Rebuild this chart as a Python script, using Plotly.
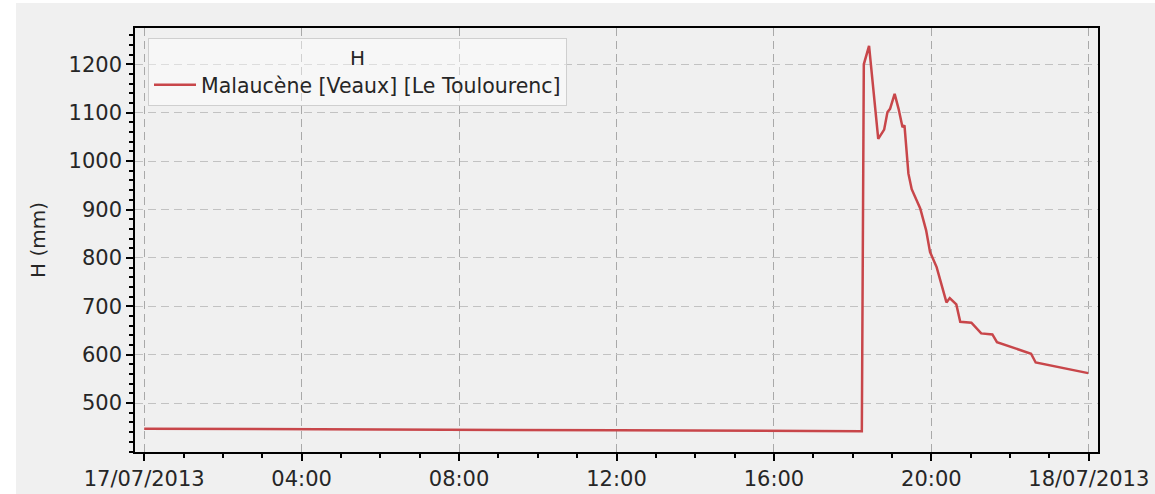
import plotly.graph_objects as go

# ---- data ----
times = [
    "2013-07-17 00:00", "2013-07-17 06:00", "2013-07-17 12:00", "2013-07-17 18:14",
    "2013-07-17 18:17", "2013-07-17 18:25", "2013-07-17 18:39", "2013-07-17 18:48",
    "2013-07-17 18:53", "2013-07-17 18:57", "2013-07-17 19:04", "2013-07-17 19:10",
    "2013-07-17 19:16", "2013-07-17 19:19", "2013-07-17 19:22", "2013-07-17 19:25",
    "2013-07-17 19:30", "2013-07-17 19:43", "2013-07-17 19:52", "2013-07-17 19:58",
    "2013-07-17 20:08", "2013-07-17 20:23", "2013-07-17 20:28", "2013-07-17 20:38",
    "2013-07-17 20:44", "2013-07-17 21:01", "2013-07-17 21:16", "2013-07-17 21:33",
    "2013-07-17 21:40", "2013-07-17 22:32", "2013-07-17 22:39", "2013-07-17 23:59",
]
h_mm = [
    447, 446, 444, 442,
    1200, 1238, 1046, 1065,
    1101, 1108, 1139, 1108,
    1070, 1074, 1022, 974,
    942, 902, 857, 812,
    781, 708, 717, 704,
    668, 666, 644, 642,
    626, 602, 584, 562,
]
series_name = "Malaucène [Veaux] [Le Toulourenc]"
legend_title = "H"
y_title = "H (mm)"

x_tickvals = ["2013-07-17 00:00", "2013-07-17 04:00", "2013-07-17 08:00", "2013-07-17 12:00",
              "2013-07-17 16:00", "2013-07-17 20:00", "2013-07-18 00:00"]
x_ticktext = ["17/07/2013", "04:00", "08:00", "12:00", "16:00", "20:00", "18/07/2013"]
y_tickvals = [500, 600, 700, 800, 900, 1000, 1100, 1200]

# ---- figure ----
FONT = "DejaVu Sans"
LINE = "#c8464a"
BG = "#f0f0f0"

fig = go.Figure()
fig.add_trace(go.Scatter(
    x=times, y=h_mm, mode="lines", name=series_name,
    line=dict(color=LINE, width=2.5),
    showlegend=True,
))

W, H = 1155, 494
L, R, T, B = 135, 57, 28, 42
PW, PH = W - L - R, H - T - B

fig.update_layout(
    width=W, height=H,
    margin=dict(l=L, r=R, t=T, b=B, autoexpand=False),
    paper_bgcolor=BG, plot_bgcolor=BG,
    font=dict(family=FONT, size=21, color="#262626"),
    showlegend=True,
    legend=dict(
        title=dict(text=legend_title, side="top center", font=dict(size=20)),
        x=(148 - L) / PW, y=1 - (38 - T) / PH,
        xanchor="left", yanchor="top",
        bgcolor="rgba(255,255,255,0.45)", bordercolor="#cfcfcf", borderwidth=1,
        font=dict(size=20.5),
        itemwidth=42,
    ),
    xaxis=dict(
        type="date",
        range=["2013-07-16 23:46", "2013-07-18 00:14"],
        tickmode="array", tickvals=x_tickvals, ticktext=x_ticktext,
        ticks="outside", ticklen=7, tickwidth=1.5, tickcolor="#000",
        showline=True, linecolor="#000", linewidth=1.5, mirror=True,
        showgrid=True, gridcolor="#a9a9a9", griddash="8px,5px", gridwidth=1.2,
        zeroline=False,
        minor=dict(ticks="outside", ticklen=4, tickcolor="#000", dtick=3600000,
                   tick0="2013-07-17 00:00", showgrid=False),
    ),
    yaxis=dict(
        range=[399, 1275],
        tickmode="array", tickvals=y_tickvals,
        ticks="outside", ticklen=7, tickwidth=1.5, tickcolor="#000",
        showline=True, linecolor="#000", linewidth=1.5, mirror=True,
        showgrid=True, gridcolor="#c2c2c2", griddash="8px,5px", gridwidth=1.2,
        zeroline=False,
        title=dict(text=y_title, standoff=18, font=dict(size=20)),
        minor=dict(ticks="outside", ticklen=4, tickcolor="#000", dtick=20,
                   tick0=0, showgrid=False),
    ),
    shapes=[
        dict(type="rect", xref="paper", yref="paper",
             x0=-L / PW - 0.01, x1=(16 - L) / PW,
             y0=-1, y1=2, fillcolor="#ffffff", line=dict(width=0), layer="below"),
        dict(type="rect", xref="paper", yref="paper",
             x0=-1, x1=2, y0=1 + (T - 3) / PH, y1=1 + (T + 5) / PH,
             fillcolor="#ffffff", line=dict(width=0), layer="below"),
    ],
)

fig.write_html(
    "out.html",
    config={"displayModeBar": False},
    post_script="document.body.style.margin='0px';document.body.style.padding='0px';",
)
